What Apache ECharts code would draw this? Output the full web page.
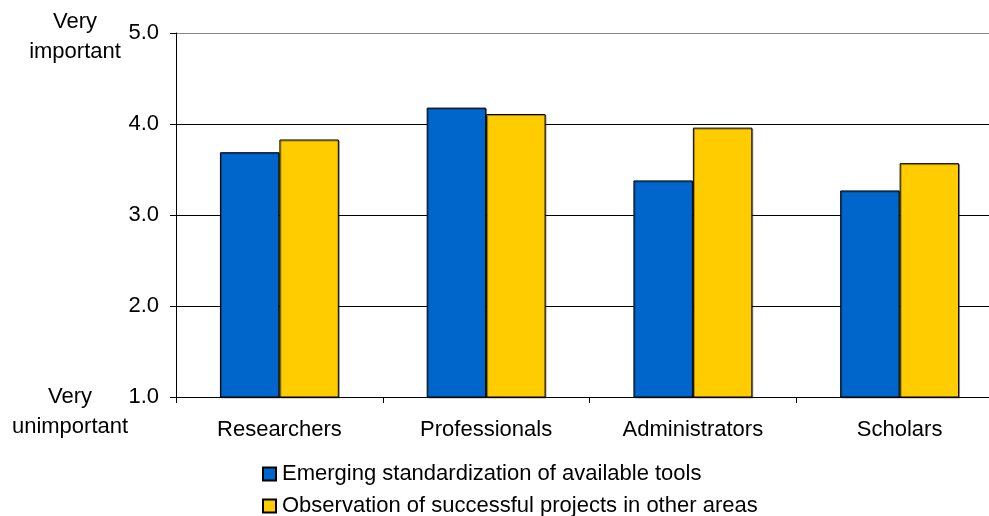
<!DOCTYPE html>
<html><head><meta charset="utf-8">
<script src="https://cdn.jsdelivr.net/npm/echarts@6/dist/echarts.min.js"></script>
<style>html,body{margin:0;padding:0;background:#fff}#c{width:989px;height:516px}</style>
</head><body><div id="c"></div>
<script>
var categories = ["Researchers", "Professionals", "Administrators", "Scholars"];
var seriesNames = ["Emerging standardization of available tools", "Observation of successful projects in other areas"];
var standardization = [3.69, 4.18, 3.38, 3.27];
var observation = [3.83, 4.11, 3.96, 3.57];
var yTop = "Very\nimportant";
var yBottom = "Very\nunimportant";

var FONT = "'Liberation Sans', Arial, sans-serif";
var FS = 22;
var chart = echarts.init(document.getElementById('c'), null, {renderer: 'canvas'});
function leg(name, top) {
  return {
    orient: 'vertical', left: 257, top: top,
    itemWidth: 13, itemHeight: 13, itemGap: 0,
    icon: 'rect',
    textStyle: {fontFamily: FONT, fontSize: FS, color: '#000', padding: [0,0,0,1]},
    data: [name]
  };
}
chart.setOption({
  animation: false,
  backgroundColor: '#fff',
  textStyle: {fontFamily: FONT, color: '#000'},
  grid: {left: 176, width: 827, top: 33, height: 364, containLabel: false, outerBoundsMode: 'none'},
  legend: [leg(seriesNames[0], 458), leg(seriesNames[1], 490)],
  xAxis: {
    type: 'category', data: categories,
    axisLine: {lineStyle: {color: '#000', width: 1}},
    axisTick: {show: true, length: 6, lineStyle: {color: '#000'}},
    axisLabel: {fontFamily: FONT, fontSize: FS, color: '#000', margin: 22}
  },
  yAxis: {
    type: 'value', min: 1, max: 5, interval: 1,
    axisLine: {show: true, lineStyle: {color: '#000', width: 1}},
    axisTick: {show: true, length: 6, lineStyle: {color: '#000'}},
    axisLabel: {fontFamily: FONT, fontSize: FS, color: '#000', margin: 17, formatter: function(v){return v.toFixed(1);}},
    splitLine: {show: true, lineStyle: {color: ['#000', '#000', '#000', '#000', '#888'], width: 1}}
  },
  graphic: [
    {type: 'text', x: 75, y: 7, style: {text: yTop, fontFamily: FONT, fontSize: FS, fill: '#000', textAlign: 'center', lineHeight: 30}},
    {type: 'text', x: 70, y: 382, style: {text: yBottom, fontFamily: FONT, fontSize: FS, fill: '#000', textAlign: 'center', lineHeight: 30}}
  ],
  series: [
    {name: seriesNames[0], type: 'bar', data: standardization, barGap: '0%', barCategoryGap: '42.5%',
     itemStyle: {color: '#0066CC', borderColor: '#000', borderWidth: 1, shadowColor: 'rgba(0,0,0,0.35)', shadowOffsetX: 1, shadowOffsetY: 1}},
    {name: seriesNames[1], type: 'bar', data: observation, barGap: '0%', barCategoryGap: '42.5%',
     itemStyle: {color: '#FFCC00', borderColor: '#000', borderWidth: 1, shadowColor: 'rgba(0,0,0,0.35)', shadowOffsetX: 1, shadowOffsetY: 1}}
  ]
});
</script></body></html>
